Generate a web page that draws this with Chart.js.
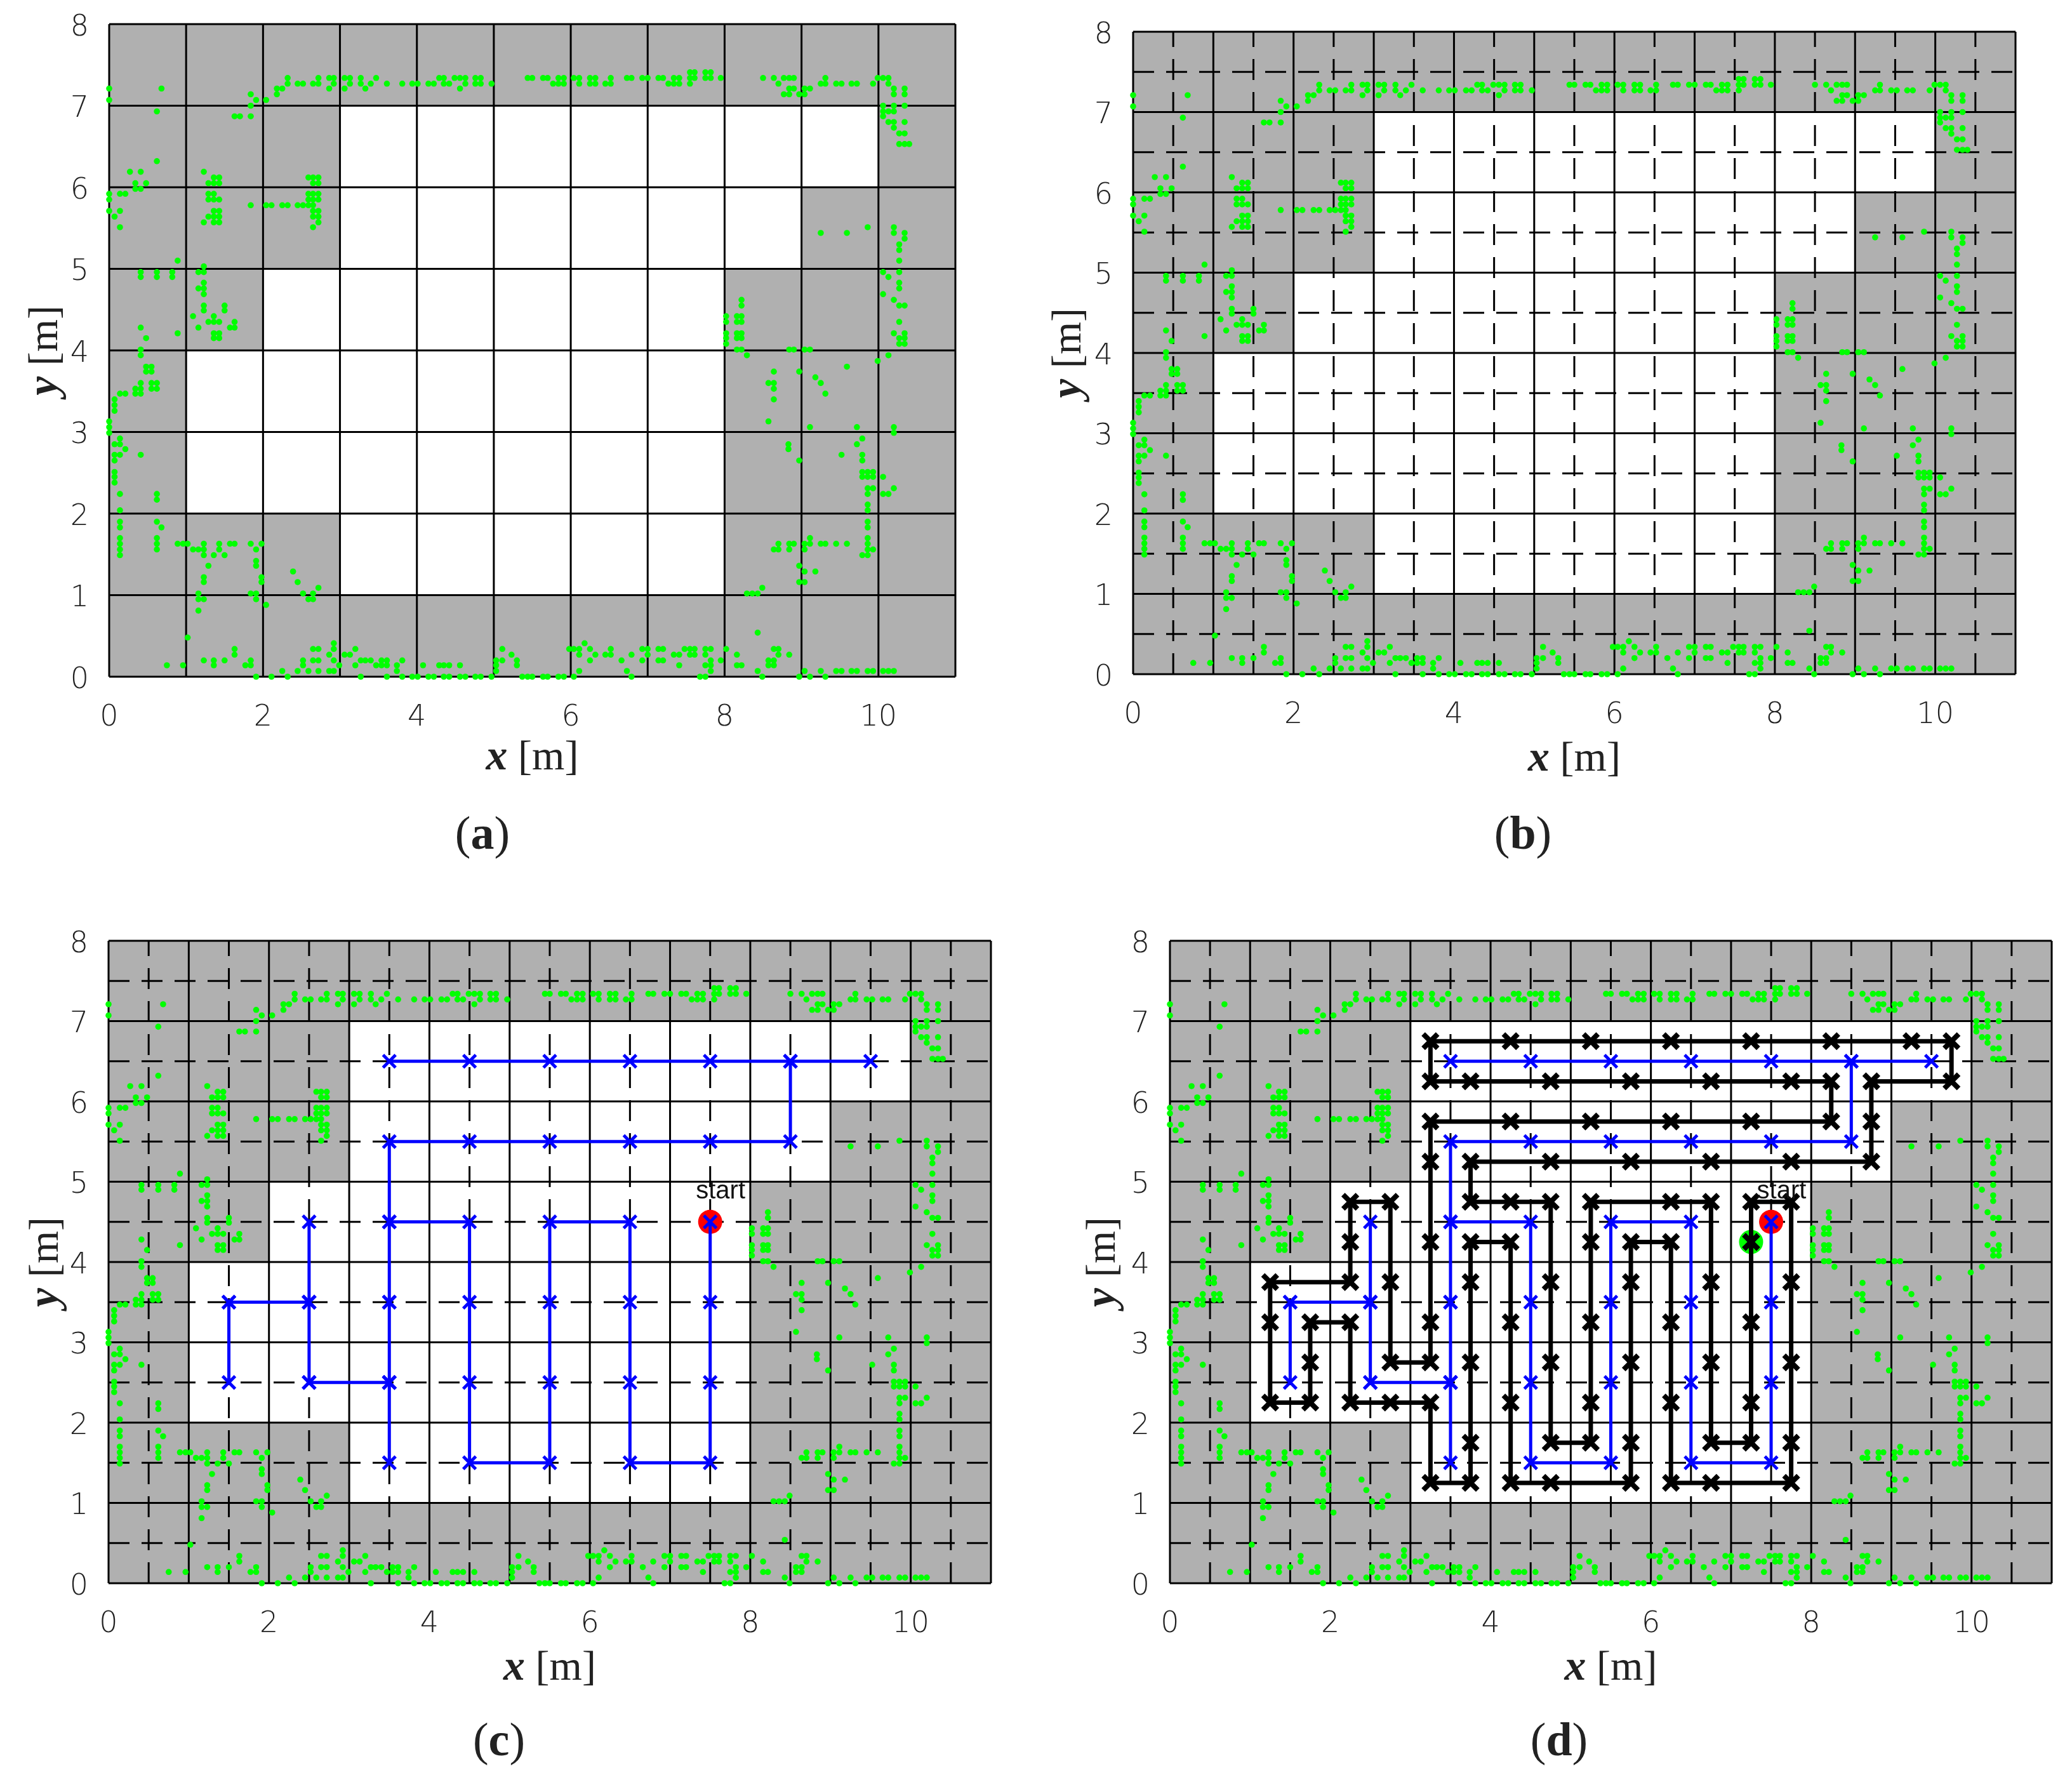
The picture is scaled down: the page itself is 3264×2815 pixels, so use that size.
<!DOCTYPE html>
<html>
<head>
<meta charset="utf-8">
<title>Coverage path figure</title>
<script src="https://cdn.jsdelivr.net/npm/chart.js@4"></script>
<style>
body { margin: 0; background: #fff; width: 3264px; height: 2815px; position: relative; overflow: hidden; }
canvas { position: absolute; }
</style>
</head>
<body>
<canvas id="a"></canvas>
<canvas id="b"></canvas>
<canvas id="c"></canvas>
<canvas id="d"></canvas>
<script>
// axis ticks
var xTicks = [0, 2, 4, 6, 8, 10];
var yTicks = [0, 1, 2, 3, 4, 5, 6, 7, 8];

// coarse 1 m grid and fine 0.5 m grid
var coarseX = [0, 1, 2, 3, 4, 5, 6, 7, 8, 9, 10, 11];
var coarseY = [0, 1, 2, 3, 4, 5, 6, 7, 8];
var fineX = [0.5, 1.5, 2.5, 3.5, 4.5, 5.5, 6.5, 7.5, 8.5, 9.5, 10.5];
var fineY = [0.5, 1.5, 2.5, 3.5, 4.5, 5.5, 6.5, 7.5];

// every column of the map is occupied, except a free stretch in these
var columnX = [0.5, 1.5, 2.5, 3.5, 4.5, 5.5, 6.5, 7.5, 8.5, 9.5, 10.5];
var freeX = [1.5, 2.5, 3.5, 4.5, 5.5, 6.5, 7.5, 8.5, 9.5];
var freeBottom = [2, 2, 1, 1, 1, 1, 1, 5, 6];
var freeTop = [4, 5, 7, 7, 7, 7, 7, 7, 7];

// laser points, one row per y: [y, x, x, x...]
var scanRows = [
  [7.41, 7.55, 7.61, 7.75, 7.82],
  [7.34, 2.32, 2.72, 2.86, 2.92, 3.06, 3.13, 3.27, 3.47, 4.29, 4.35, 4.49, 4.56, 4.63, 4.76, 4.83, 5.44, 5.5, 5.64, 5.7, 5.84, 5.91, 6.04, 6.11, 6.25, 6.32, 6.52, 6.73, 6.79, 6.93, 7, 7.14, 7.2, 7.34, 7.41, 7.55, 7.61, 7.75, 7.82, 7.95, 8.5, 8.64, 8.77, 8.84, 8.9, 9.31, 9.99, 10.06, 10.13],
  [7.27, 2.32, 2.45, 2.52, 2.65, 2.72, 2.92, 3.13, 3.27, 3.4, 3.61, 3.81, 3.94, 4.01, 4.15, 4.22, 4.35, 4.42, 4.63, 4.76, 4.83, 4.97, 5.77, 5.84, 5.91, 6.11, 6.25, 6.32, 6.45, 6.52, 7.27, 7.34, 7.41, 7.55, 8.7, 9.25, 9.31, 9.45, 9.52, 9.65, 9.72, 9.93, 10.13],
  [7.21, 0, 0.68, 2.18, 2.25, 2.86, 3.06, 3.33, 4.56, 8.84, 8.9, 9.04, 9.11, 10.2, 10.34],
  [7.14, 1.84, 2.18, 8.77, 8.84, 8.97, 9.04, 10.2, 10.34],
  [7.07, 0, 1.91, 2.04],
  [7, 1.84, 10.06, 10.2, 10.34],
  [6.93, 0.62, 10.06, 10.13, 10.2],
  [6.87, 1.63, 1.7, 1.84, 10.06],
  [6.8, 10.13, 10.2, 10.34],
  [6.73, 10.2],
  [6.66, 10.27, 10.34],
  [6.53, 10.27, 10.34, 10.4],
  [6.32, 0.62],
  [6.19, 0.27, 0.41, 1.23],
  [6.12, 1.36, 1.43, 2.59, 2.65, 2.72],
  [6.05, 0.34, 0.48, 1.29, 1.36, 1.43, 2.65, 2.72],
  [5.98, 0.34, 0.41],
  [5.92, 0, 0.14, 0.21, 1.29, 1.36, 2.59, 2.65, 2.72],
  [5.85, 0, 1.29, 1.36, 1.43, 2.59, 2.65, 2.72],
  [5.78, 1.84, 2.04, 2.11, 2.25, 2.32, 2.45, 2.52, 2.59, 2.65],
  [5.71, 0, 0.14, 1.36, 1.43, 2.65, 2.72],
  [5.64, 0.07, 1.29, 1.36, 1.43, 2.65, 2.72],
  [5.57, 1.23, 1.36, 1.43, 2.72],
  [5.51, 0.14, 2.65, 9.86, 10.2],
  [5.44, 9.25, 9.59, 10.2, 10.34],
  [5.37, 10.34],
  [5.3, 10.27],
  [5.23, 10.27],
  [5.1, 0.89, 10.27],
  [5.03, 1.23],
  [4.96, 0.41, 0.62, 0.82, 1.16, 1.23, 10.06, 10.27],
  [4.9, 0.41, 0.62, 0.82, 10.13],
  [4.83, 1.23, 10.27],
  [4.76, 1.16, 1.23, 10.27],
  [4.69, 1.23, 10.06],
  [4.62, 8.22, 10.2],
  [4.55, 1.23, 1.5, 8.22, 10.27, 10.34],
  [4.49, 1.23, 1.5],
  [4.42, 1.09, 1.36, 8.02, 8.16, 8.22],
  [4.35, 1.29, 1.36, 1.43, 1.63, 8.02, 8.16, 8.22, 10.27],
  [4.28, 0.41, 1.16, 1.57, 1.63],
  [4.21, 0.89, 1.36, 1.43, 8.02, 8.16, 8.22, 10.2, 10.34],
  [4.15, 0.48, 1.36, 1.43, 8.02, 8.16, 8.22, 10.27, 10.34],
  [4.08, 8.02, 10.27, 10.34],
  [4.01, 0.41, 8.16, 8.22, 8.84, 8.9, 9.04, 9.11],
  [3.94, 0.41, 8.29, 10.13],
  [3.87, 9.99],
  [3.8, 0.48, 0.55, 9.59],
  [3.74, 0.48, 0.55, 8.64, 8.97],
  [3.67, 9.18],
  [3.6, 0.41, 0.55, 0.62, 8.57, 8.64, 9.25],
  [3.53, 0.34, 0.41, 0.55, 0.62, 8.64],
  [3.47, 0.14, 0.21, 0.34, 0.41, 9.31],
  [3.4, 0.07, 8.64],
  [3.33, 0.07],
  [3.26, 0.07],
  [3.13, 0, 8.57],
  [3.06, 0, 9.11, 9.72, 10.2],
  [2.99, 0, 10.2],
  [2.92, 0.14, 9.79],
  [2.85, 0.07, 0.14, 8.83, 9.72],
  [2.79, 0.21, 8.83],
  [2.72, 0.07, 0.14, 0.41, 9.52, 9.79],
  [2.65, 0.07, 8.97, 9.79],
  [2.51, 0.07, 9.79, 9.86, 9.93],
  [2.45, 0.07, 9.79, 9.86, 9.93, 10.06],
  [2.38, 0.07],
  [2.31, 9.86, 9.93, 10.2],
  [2.24, 0.14, 0.62, 9.86, 10.06, 10.13],
  [2.17, 0.62],
  [2.11, 9.86],
  [2.04, 0.14, 9.86],
  [1.9, 0.14, 0.62, 9.86],
  [1.83, 0.14, 0.68, 9.86],
  [1.7, 0.14, 0.62, 9.11, 9.86],
  [1.63, 0.14, 0.62, 0.89, 0.96, 1.02, 1.23, 1.43, 1.57, 1.63, 1.84, 1.98, 8.7, 8.84, 8.9, 9.04, 9.11, 9.25, 9.31, 9.45, 9.59, 9.86],
  [1.56, 0.14, 0.62, 1.09, 1.16, 1.23, 1.43, 1.91, 8.64, 8.7, 8.84, 9.04, 9.86, 9.93],
  [1.49, 0.14, 1.23, 1.36, 1.5, 9.79, 9.86],
  [1.42, 1.91],
  [1.36, 1.29, 1.91, 8.97],
  [1.29, 2.39, 9.04, 9.18],
  [1.22, 1.23, 1.98],
  [1.16, 1.23, 1.98, 2.45, 8.97, 9.04],
  [1.09, 2.72, 8.49],
  [1.02, 1.16, 1.84, 1.91, 2.52, 2.65, 8.29, 8.36, 8.43],
  [0.95, 1.16, 1.23, 1.91, 2.59, 2.65],
  [0.88, 2.04],
  [0.81, 1.16],
  [0.54, 8.43],
  [0.48, 1.02],
  [0.41, 2.92, 6.18],
  [0.34, 1.63, 2.65, 2.72, 2.92, 3.2, 5.11, 5.98, 6.04, 6.11, 6.25, 6.52, 6.93, 7, 7.14, 7.2, 7.48, 7.55, 7.61, 7.75, 7.82, 8.02, 8.64, 8.7],
  [0.27, 1.63, 2.86, 3.06, 3.13, 5.23, 6.11, 6.32, 6.45, 6.52, 6.79, 7, 7.34, 7.41, 7.55, 7.61, 7.75, 8.16, 8.7, 8.84],
  [0.2, 1.23, 1.36, 1.5, 1.84, 2.52, 2.65, 2.72, 2.92, 3.27, 3.33, 3.4, 3.54, 3.61, 3.81, 5.03, 5.11, 5.3, 6.25, 6.66, 6.93, 7.14, 7.2, 7.82, 7.95, 8.57, 8.64],
  [0.14, 0.75, 0.96, 1.36, 1.77, 1.84, 2.52, 2.99, 3.2, 3.47, 3.54, 3.61, 3.74, 4.08, 4.29, 4.35, 4.42, 4.56, 5.03, 5.3, 7.41, 7.75, 7.82, 8.16, 8.22, 8.57, 8.64],
  [0.07, 2.25, 2.45, 2.59, 2.72, 2.86, 2.92, 3.74, 5.03, 6.11, 6.73, 7.82, 8.43, 9.04, 9.25, 9.45, 9.52, 9.65, 9.72, 9.86, 9.93, 10.06, 10.13, 10.2],
  [0, 1.91, 2.11, 2.32, 3.27, 3.61, 3.81, 3.94, 4.01, 4.15, 4.22, 4.35, 4.42, 4.56, 4.63, 4.76, 4.83, 4.97, 5.37, 5.44, 5.5, 5.64, 5.7, 5.84, 5.91, 6.04, 6.79, 7.68, 7.75, 8.49, 8.97, 9.11, 9.31]
];

// spanning tree, walked from the start cell (backtracks over itself)
var treeX = [7.5, 7.5, 7.5, 7.5, 6.5, 6.5, 6.5, 6.5, 5.5, 5.5, 5.5, 5.5, 4.5, 4.5, 4.5, 4.5, 3.5, 3.5, 3.5, 3.5, 3.5, 2.5, 2.5, 2.5, 2.5, 1.5, 1.5, 1.5, 2.5, 2.5, 3.5, 3.5, 3.5, 3.5, 4.5, 5.5, 6.5, 7.5, 8.5, 8.5, 9.5, 8.5, 7.5, 6.5, 5.5, 4.5, 3.5];
var treeY = [4.5, 3.5, 2.5, 1.5, 1.5, 2.5, 3.5, 4.5, 4.5, 3.5, 2.5, 1.5, 1.5, 2.5, 3.5, 4.5, 4.5, 3.5, 2.5, 1.5, 2.5, 2.5, 3.5, 4.5, 3.5, 3.5, 2.5, 3.5, 3.5, 2.5, 2.5, 3.5, 4.5, 5.5, 5.5, 5.5, 5.5, 5.5, 5.5, 6.5, 6.5, 6.5, 6.5, 6.5, 6.5, 6.5, 6.5];

// coverage path around the tree
var pathX = [7.25, 7.25, 7.25, 7.25, 6.75, 6.75, 6.75, 6.75, 6.25, 5.25, 5.25, 5.25, 5.25, 5.25, 4.75, 4.75, 4.75, 4.75, 4.25, 3.75, 3.75, 4.75, 5.75, 6.75, 7.75, 8.75, 8.75, 8.75, 9.75, 9.75, 9.25, 8.25, 7.25, 6.25, 5.25, 4.25, 3.25, 3.25, 3.75, 4.75, 5.75, 6.75, 7.75, 8.25, 8.25, 7.25, 6.25, 5.25, 4.25, 3.25, 3.25, 3.25, 3.25, 3.25, 2.75, 2.75, 2.75, 2.25, 2.25, 2.25, 1.25, 1.25, 1.25, 1.75, 1.75, 1.75, 2.25, 2.25, 2.75, 3.25, 3.25, 3.75, 3.75, 3.75, 3.75, 3.75, 4.25, 4.25, 4.25, 4.25, 4.75, 5.75, 5.75, 5.75, 5.75, 5.75, 6.25, 6.25, 6.25, 6.25, 6.75, 7.75, 7.75, 7.75, 7.75, 7.75, 7.25, 7.25];
var pathY = [4.25, 3.25, 2.25, 1.75, 1.75, 2.75, 3.75, 4.75, 4.75, 4.75, 4.25, 3.25, 2.25, 1.75, 1.75, 2.75, 3.75, 4.75, 4.75, 4.75, 5.25, 5.25, 5.25, 5.25, 5.25, 5.25, 5.75, 6.25, 6.25, 6.75, 6.75, 6.75, 6.75, 6.75, 6.75, 6.75, 6.75, 6.25, 6.25, 6.25, 6.25, 6.25, 6.25, 6.25, 5.75, 5.75, 5.75, 5.75, 5.75, 5.75, 5.25, 4.25, 3.25, 2.75, 2.75, 3.75, 4.75, 4.75, 4.25, 3.75, 3.75, 3.25, 2.25, 2.25, 2.75, 3.25, 3.25, 2.25, 2.25, 2.25, 1.25, 1.25, 1.75, 2.75, 3.75, 4.25, 4.25, 3.25, 2.25, 1.25, 1.25, 1.25, 1.75, 2.75, 3.75, 4.25, 4.25, 3.25, 2.25, 1.25, 1.25, 1.25, 1.75, 2.75, 3.75, 4.75, 4.75, 4.25];

var startPoint = { x: 7.5, y: 4.5 };
var endPoint = { x: 7.25, y: 4.25 };
var startLabel = { x: 7.63, y: 4.88, text: 'start' };

var GRAY = '#b0b0b0', GREEN = '#00ff00', BLUE = '#0000ff', RED = '#ff0000', INK = '#222222';
var SANS_TICK = '"DejaVu Sans"';
var SERIF = '"Liberation Serif"';

function zipXY(xs, ys) {
  return xs.map(function (x, i) { return { x: x, y: ys[i] }; });
}

function scanPoints() {
  var out = [];
  scanRows.forEach(function (row) {
    row.slice(1).forEach(function (x) { out.push({ x: x, y: row[0] }); });
  });
  return out;
}

// one path with gaps, each grid line restarts its own dash pattern
function gridLines(xs, ys) {
  var out = [];
  xs.forEach(function (x) { out.push({ x: x, y: 0 }, { x: x, y: 8 }, { x: x, y: null }); });
  ys.forEach(function (y) { out.push({ x: 0, y: y }, { x: 11, y: y }, { x: 11, y: null }); });
  return out;
}

function lineSet(data, color, width, order, dash) {
  return { type: 'line', data: data, borderColor: color, borderWidth: width, borderDash: dash || [],
    pointRadius: 0, order: order, clip: false, spanGaps: false, tension: 0 };
}

function drawParts(ctx, parts, cx, cy, rotate) {
  var total = 0;
  parts.forEach(function (p) { ctx.font = p.font; total += ctx.measureText(p.text).width; });
  ctx.save();
  ctx.translate(cx, cy);
  if (rotate) ctx.rotate(-Math.PI / 2);
  ctx.fillStyle = INK;
  ctx.textBaseline = 'alphabetic';
  ctx.textAlign = 'left';
  var at = -total / 2;
  parts.forEach(function (p) {
    ctx.font = p.font;
    ctx.fillText(p.text, at, 20);
    at += ctx.measureText(p.text).width;
  });
  ctx.restore();
}

var textPlugin = {
  id: 'panelText',
  afterDraw: function (chart, args, opts) {
    var ctx = chart.ctx, area = chart.chartArea;
    var xc = (area.left + area.right) / 2, yc = (area.top + area.bottom) / 2;
    drawParts(ctx, [{ text: 'x', font: 'italic bold 68px ' + SERIF }, { text: ' [m]', font: '66px ' + SERIF }], xc, opts.xNameY);
    drawParts(ctx, [{ text: 'y', font: 'italic bold 68px ' + SERIF }, { text: ' [m]', font: '66px ' + SERIF }], opts.yNameX, yc, true);
    drawParts(ctx, [{ text: '(', font: '74px ' + SERIF }, { text: opts.letter, font: 'bold 74px ' + SERIF }, { text: ')', font: '74px ' + SERIF }], opts.capX, opts.capY);
    if (opts.showStart) {
      ctx.save();
      ctx.font = '40px "Liberation Sans"';
      ctx.fillStyle = '#111111';
      ctx.textAlign = 'center';
      ctx.textBaseline = 'middle';
      ctx.fillText(startLabel.text, chart.scales.x.getPixelForValue(startLabel.x), chart.scales.y.getPixelForValue(startLabel.y));
      ctx.restore();
    }
  }
};

function makePanel(id, box, plot, opt) {
  var canvas = document.getElementById(id);
  canvas.width = box.w;
  canvas.height = box.h;
  canvas.style.left = box.x + 'px';
  canvas.style.top = box.y + 'px';

  var sets = [
    { data: columnX.map(function (x) { return { x: x, y: [0, 8] }; }), backgroundColor: GRAY, order: 20, grouped: false, barPercentage: 1, categoryPercentage: 1, borderWidth: 0 },
    { data: freeX.map(function (x, i) { return { x: x, y: [freeBottom[i], freeTop[i]] }; }), backgroundColor: '#ffffff', order: 19, grouped: false, barPercentage: 1, categoryPercentage: 1, borderWidth: 0 },
    lineSet(gridLines(coarseX, coarseY), '#000000', 3, 18)
  ];
  if (opt.fine) sets.push(lineSet(gridLines(fineX, fineY), '#000000', 3, 17, [33, 19]));
  sets.push({ type: 'line', data: scanPoints(), showLine: false, pointStyle: 'circle', pointRadius: 4.8, pointBorderWidth: 0,
    pointBackgroundColor: GREEN, order: 16, clip: false });
  if (opt.tree) {
    sets.push({ type: 'line', data: [startPoint], showLine: false, pointRadius: 19, pointBorderWidth: 0, pointBackgroundColor: RED, order: 5, clip: false });
    sets.push({ type: 'line', data: zipXY(treeX, treeY), borderColor: BLUE, borderWidth: 5, tension: 0, pointStyle: 'crossRot',
      pointRadius: 14, pointBorderColor: BLUE, pointBorderWidth: 5, order: 1, clip: false });
  }
  if (opt.path) {
    sets.push({ type: 'line', data: [endPoint], showLine: false, pointRadius: 19, pointBorderWidth: 0, pointBackgroundColor: GREEN, order: 4, clip: false });
    sets.push({ type: 'line', data: zipXY(pathX, pathY), borderColor: '#000000', borderWidth: 7, tension: 0, pointStyle: 'crossRot',
      pointRadius: 16, pointBorderColor: '#000000', pointBorderWidth: 8, order: 2, clip: false });
  }

  new Chart(canvas, {
    type: 'bar',
    data: { datasets: sets },
    plugins: [textPlugin],
    options: {
      responsive: false,
      devicePixelRatio: 1,
      animation: false,
      layout: { autoPadding: false, padding: { top: plot.top - box.y, right: box.x + box.w - plot.right, left: 0, bottom: 0 } },
      plugins: {
        legend: { display: false },
        tooltip: { enabled: false },
        panelText: {
          letter: opt.letter, showStart: !!opt.tree,
          xNameY: opt.xNameY - box.y, yNameX: opt.yNameX - box.x,
          capX: opt.capX - box.x, capY: opt.capY - box.y
        }
      },
      scales: {
        x: {
          type: 'linear', min: 0, max: 11, offset: false,
          grid: { display: false, offset: false }, border: { display: false },
          afterBuildTicks: function (s) { s.ticks = xTicks.map(function (v) { return { value: v }; }); },
          afterFit: function (s) { s.height = box.y + box.h - plot.bottom; s.paddingLeft = 0; s.paddingRight = 0; },
          ticks: { autoSkip: false, maxRotation: 0, padding: 29, color: INK, font: { family: SANS_TICK, size: 46, weight: '200' } }
        },
        y: {
          type: 'linear', min: 0, max: 8,
          grid: { display: false }, border: { display: false },
          afterBuildTicks: function (s) { s.ticks = yTicks.map(function (v) { return { value: v }; }); },
          afterFit: function (s) { s.width = plot.left - box.x; s.paddingTop = 0; s.paddingBottom = 0; },
          ticks: { autoSkip: false, padding: 24, labelOffset: 6, color: INK, font: { family: SANS_TICK, size: 46, weight: '200' } }
        }
      }
    }
  });
}

makePanel('a', { x: 0, y: 0, w: 1632, h: 1400 }, { left: 172, top: 38, right: 1505, bottom: 1066 },
  { letter: 'a', xNameY: 1192, yNameX: 70, capX: 760, capY: 1317 });
makePanel('b', { x: 1632, y: 0, w: 1632, h: 1400 }, { left: 1785, top: 50, right: 3175, bottom: 1062 },
  { letter: 'b', fine: true, xNameY: 1194, yNameX: 1682, capX: 2399, capY: 1317 });
makePanel('c', { x: 0, y: 1400, w: 1632, h: 1415 }, { left: 171, top: 1482, right: 1561, bottom: 2494 },
  { letter: 'c', fine: true, tree: true, xNameY: 2626, yNameX: 71, capX: 786, capY: 2745 });
makePanel('d', { x: 1632, y: 1400, w: 1632, h: 1415 }, { left: 1843, top: 1482, right: 3232, bottom: 2494 },
  { letter: 'd', fine: true, tree: true, path: true, xNameY: 2626, yNameX: 1736, capX: 2456, capY: 2745 });
</script>
</body>
</html>
